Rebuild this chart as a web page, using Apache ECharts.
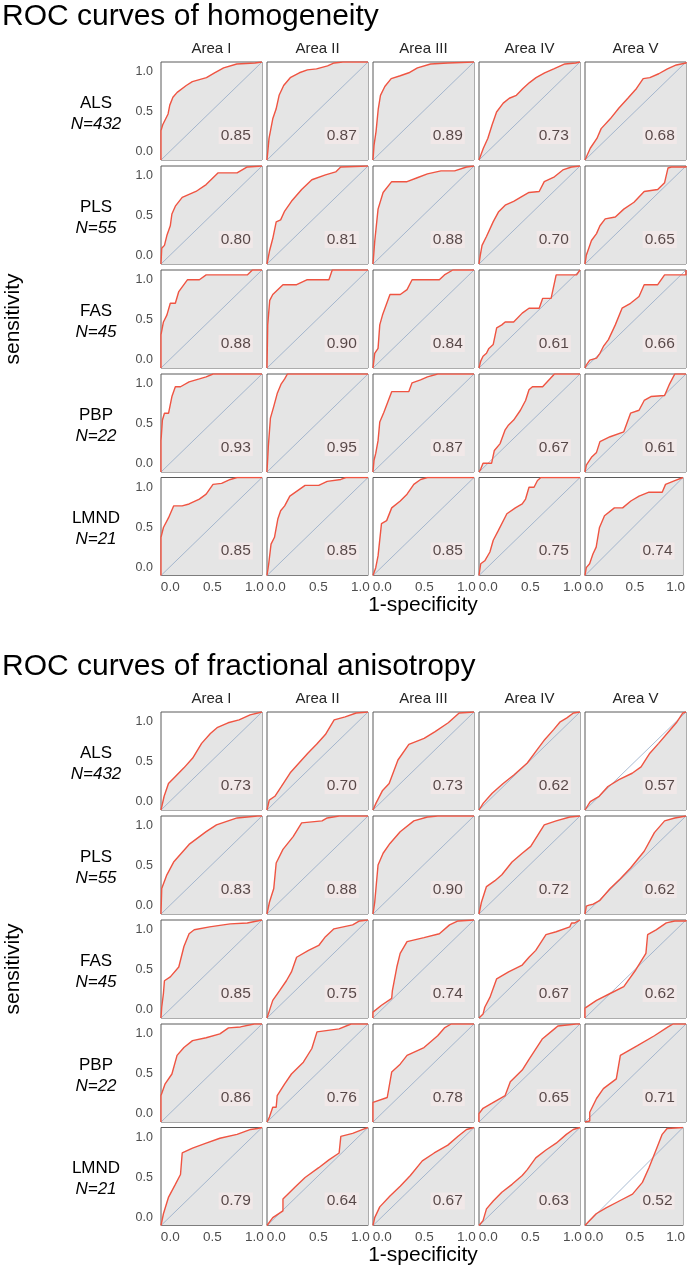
<!DOCTYPE html>
<html><head><meta charset="utf-8">
<script src="https://cdn.jsdelivr.net/npm/echarts@6/dist/echarts.min.js"></script>
<style>html,body{margin:0;padding:0;background:#fff}#c{width:688px;height:1270px}</style>
</head><body><div id="c"></div><script>
// ---------- data ----------
const titles = ['ROC curves of homogeneity', 'ROC curves of fractional anisotropy'];
const areas = ['Area I', 'Area II', 'Area III', 'Area IV', 'Area V'];
const groups = ['ALS', 'PLS', 'FAS', 'PBP', 'LMND'];
const groupN = [432, 55, 45, 22, 21];
const xTicks = [0, 0.5, 1];
const yTicks = [0, 0.5, 1];
const diagonal = [[0, 0], [1, 1]];

// homogeneity ROC curves: [1-specificity, sensitivity]
const homALS = [
  [[0,0],[0,0.3],[0.017,0.36],[0.07,0.47],[0.087,0.56],[0.118,0.64],[0.16,0.69],[0.25,0.76],[0.31,0.80],[0.45,0.84],[0.53,0.89],[0.62,0.94],[0.75,0.98],[0.93,0.99],[1,1]],
  [[0,0],[0.02,0.22],[0.057,0.42],[0.09,0.52],[0.12,0.66],[0.165,0.76],[0.23,0.84],[0.32,0.89],[0.40,0.92],[0.49,0.93],[0.6,0.96],[0.665,0.99],[0.75,1],[1,1]],
  [[0,0],[0.01,0.15],[0.03,0.29],[0.052,0.52],[0.074,0.66],[0.117,0.75],[0.18,0.83],[0.27,0.86],[0.355,0.89],[0.44,0.94],[0.57,0.98],[0.74,0.99],[1,1]],
  [[0,0],[0.043,0.12],[0.087,0.22],[0.13,0.36],[0.174,0.49],[0.24,0.58],[0.30,0.63],[0.37,0.66],[0.435,0.73],[0.5,0.79],[0.565,0.84],[0.65,0.89],[0.74,0.93],[0.85,0.98],[0.957,0.99],[1,1]],
  [[0,0],[0.052,0.12],[0.118,0.22],[0.16,0.32],[0.25,0.42],[0.336,0.53],[0.424,0.63],[0.51,0.73],[0.576,0.83],[0.642,0.84],[0.73,0.88],[0.816,0.93],[0.904,0.97],[1,0.99],[1,1]]
];
const homPLS = [
  [[0,0],[0.007,0.16],[0.034,0.19],[0.058,0.29],[0.092,0.39],[0.108,0.51],[0.142,0.59],[0.21,0.68],[0.346,0.74],[0.447,0.81],[0.566,0.93],[0.753,0.93],[0.854,0.99],[1,1]],
  [[0,0],[0.024,0.13],[0.057,0.26],[0.091,0.43],[0.135,0.45],[0.175,0.54],[0.242,0.64],[0.343,0.76],[0.444,0.86],[0.579,0.91],[0.68,0.94],[0.73,0.99],[1,1]],
  [[0,0],[0.017,0.23],[0.05,0.56],[0.1,0.73],[0.185,0.84],[0.337,0.84],[0.438,0.88],[0.539,0.92],[0.673,0.95],[0.808,0.95],[0.926,0.99],[1,1]],
  [[0,0],[0.013,0.09],[0.03,0.19],[0.074,0.28],[0.14,0.43],[0.192,0.53],[0.259,0.6],[0.343,0.64],[0.41,0.68],[0.495,0.73],[0.596,0.74],[0.646,0.84],[0.747,0.89],[0.83,0.96],[0.916,0.99],[1,1]],
  [[0,0],[0.013,0.09],[0.064,0.24],[0.114,0.31],[0.148,0.39],[0.2,0.46],[0.3,0.48],[0.384,0.56],[0.485,0.63],[0.586,0.74],[0.72,0.76],[0.788,0.83],[0.822,0.98],[0.855,0.99],[1,0.99],[1,1]]
];
const homFAS = [
  [[0,0],[0,0.34],[0.024,0.47],[0.058,0.54],[0.092,0.66],[0.142,0.66],[0.176,0.78],[0.261,0.9],[0.38,0.9],[0.447,0.95],[0.854,0.95],[0.905,1],[1,1]],
  [[0,0],[0.007,0.44],[0.027,0.69],[0.057,0.75],[0.158,0.85],[0.293,0.85],[0.394,0.9],[0.613,0.9],[0.646,1],[1,1]],
  [[0,0],[0.017,0.15],[0.05,0.2],[0.067,0.44],[0.094,0.54],[0.168,0.75],[0.27,0.75],[0.337,0.8],[0.387,0.9],[0.657,0.9],[0.707,0.95],[0.79,1],[1,1]],
  [[0,0],[0.017,0.07],[0.04,0.12],[0.074,0.15],[0.098,0.2],[0.141,0.24],[0.175,0.41],[0.226,0.44],[0.259,0.47],[0.343,0.47],[0.428,0.56],[0.495,0.61],[0.596,0.61],[0.63,0.71],[0.714,0.71],[0.764,0.95],[0.966,0.95],[1,1]],
  [[0,0],[0.013,0.03],[0.047,0.08],[0.114,0.1],[0.148,0.15],[0.182,0.22],[0.232,0.29],[0.3,0.44],[0.367,0.61],[0.451,0.66],[0.535,0.73],[0.586,0.85],[0.72,0.85],[0.788,0.95],[1,0.95],[1,1]]
];
const homPBP = [
  [[0,0],[0,0.32],[0.014,0.53],[0.034,0.6],[0.075,0.6],[0.108,0.77],[0.142,0.87],[0.193,0.87],[0.278,0.92],[0.38,0.95],[0.447,0.97],[0.515,1],[1,1]],
  [[0,0],[0.013,0.26],[0.034,0.55],[0.067,0.67],[0.101,0.8],[0.141,0.9],[0.175,0.95],[0.202,1],[1,1]],
  [[0,0],[0.01,0.12],[0.027,0.19],[0.05,0.32],[0.067,0.51],[0.108,0.61],[0.185,0.82],[0.354,0.82],[0.387,0.91],[0.471,0.94],[0.539,0.97],[0.64,1],[1,1]],
  [[0,0],[0.017,0.03],[0.04,0.09],[0.125,0.09],[0.152,0.22],[0.209,0.29],[0.259,0.43],[0.293,0.48],[0.343,0.53],[0.41,0.63],[0.461,0.73],[0.495,0.84],[0.529,0.87],[0.63,0.87],[0.747,1],[1,1]],
  [[0,0],[0.013,0.07],[0.064,0.15],[0.114,0.2],[0.148,0.31],[0.249,0.36],[0.384,0.41],[0.451,0.6],[0.535,0.63],[0.586,0.73],[0.653,0.77],[0.788,0.78],[0.838,0.9],[0.889,1],[1,1]]
];
const homLMND = [
  [[0,0],[0,0.39],[0.024,0.49],[0.075,0.59],[0.125,0.71],[0.21,0.71],[0.278,0.73],[0.38,0.78],[0.447,0.83],[0.515,0.93],[0.6,0.94],[0.686,0.98],[0.753,1],[1,1]],
  [[0,0],[0.017,0.12],[0.04,0.32],[0.074,0.39],[0.108,0.58],[0.135,0.66],[0.175,0.71],[0.226,0.81],[0.377,0.92],[0.512,0.92],[0.596,0.96],[0.731,0.98],[0.781,1],[1,1]],
  [[0,0],[0.027,0.08],[0.05,0.2],[0.084,0.53],[0.135,0.56],[0.185,0.69],[0.27,0.76],[0.337,0.83],[0.404,0.93],[0.471,0.98],[0.539,1],[1,1]],
  [[0,0],[0.017,0.12],[0.057,0.15],[0.108,0.24],[0.141,0.36],[0.192,0.46],[0.276,0.63],[0.36,0.69],[0.428,0.73],[0.461,0.78],[0.495,0.9],[0.545,0.9],[0.579,0.97],[0.613,1],[1,1]],
  [[0,0],[0.013,0.08],[0.047,0.12],[0.081,0.22],[0.114,0.29],[0.148,0.49],[0.199,0.61],[0.3,0.69],[0.384,0.69],[0.468,0.76],[0.552,0.81],[0.653,0.85],[0.788,0.85],[0.822,0.93],[0.923,0.97],[1,1]]
];

// fractional anisotropy ROC curves
const faALS = [
  [[0,0],[0.031,0.14],[0.074,0.27],[0.14,0.34],[0.227,0.43],[0.314,0.53],[0.402,0.68],[0.489,0.78],[0.555,0.84],[0.664,0.89],[0.773,0.92],[0.882,0.97],[1,1]],
  [[0,0],[0.022,0.1],[0.078,0.14],[0.143,0.24],[0.23,0.38],[0.317,0.48],[0.404,0.58],[0.491,0.67],[0.578,0.77],[0.665,0.92],[0.774,0.95],[0.883,0.99],[1,1]],
  [[0,0],[0.03,0.07],[0.095,0.2],[0.16,0.27],[0.247,0.51],[0.355,0.67],[0.506,0.73],[0.615,0.8],[0.745,0.89],[0.853,0.99],[1,1]],
  [[0,0],[0.043,0.07],[0.13,0.17],[0.239,0.27],[0.348,0.36],[0.478,0.48],[0.565,0.6],[0.652,0.72],[0.739,0.82],[0.804,0.9],[0.87,0.94],[0.935,0.99],[1,1]],
  [[0,0],[0.052,0.085],[0.14,0.14],[0.227,0.24],[0.336,0.31],[0.467,0.375],[0.555,0.44],[0.642,0.58],[0.729,0.68],[0.817,0.785],[0.904,0.89],[0.969,0.99],[1,1]]
];
const faPLS = [
  [[0,0],[0.007,0.26],[0.058,0.4],[0.125,0.53],[0.278,0.71],[0.447,0.84],[0.549,0.91],[0.753,0.98],[0.956,1],[1,1]],
  [[0,0],[0.024,0.12],[0.067,0.26],[0.091,0.52],[0.158,0.66],[0.259,0.79],[0.343,0.93],[0.545,0.95],[0.596,0.98],[0.714,1],[1,1]],
  [[0,0],[0.017,0.12],[0.05,0.5],[0.1,0.62],[0.168,0.72],[0.269,0.84],[0.404,0.95],[0.539,0.99],[0.64,1],[1,1]],
  [[0,0],[0.024,0.12],[0.074,0.28],[0.158,0.34],[0.226,0.4],[0.327,0.53],[0.428,0.62],[0.512,0.69],[0.646,0.91],[0.764,0.95],[0.899,0.99],[1,1]],
  [[0,0],[0.013,0],[0.013,0.08],[0.04,0.09],[0.081,0.1],[0.148,0.14],[0.249,0.26],[0.35,0.36],[0.451,0.47],[0.586,0.64],[0.687,0.83],[0.788,0.95],[0.889,0.98],[1,1]]
];
const faFAS = [
  [[0,0],[0.007,0.11],[0.024,0.25],[0.034,0.38],[0.092,0.42],[0.176,0.52],[0.227,0.73],[0.278,0.86],[0.329,0.9],[0.481,0.93],[0.685,0.96],[0.854,0.97],[0.861,0.99],[1,1]],
  [[0,0],[0.024,0.075],[0.057,0.18],[0.125,0.28],[0.192,0.38],[0.242,0.47],[0.293,0.62],[0.411,0.69],[0.512,0.74],[0.579,0.83],[0.663,0.91],[0.848,0.95],[0.916,0.99],[1,1]],
  [[0,0],[0,0.06],[0.084,0.13],[0.185,0.2],[0.192,0.28],[0.236,0.52],[0.269,0.66],[0.337,0.78],[0.505,0.82],[0.657,0.86],[0.758,0.95],[0.842,0.99],[1,1]],
  [[0,0],[0.04,0.04],[0.057,0.11],[0.108,0.21],[0.175,0.4],[0.293,0.47],[0.428,0.54],[0.495,0.62],[0.562,0.69],[0.663,0.85],[0.764,0.88],[0.899,0.93],[0.916,0.97],[0.949,0.97],[0.966,0.99],[1,1]],
  [[0,0],[0,0.1],[0.013,0.11],[0.114,0.18],[0.249,0.25],[0.384,0.32],[0.502,0.49],[0.603,0.66],[0.62,0.66],[0.62,0.85],[0.704,0.9],[0.805,0.97],[0.889,0.99],[1,0.99],[1,1]]
];
const faPBP = [
  [[0,0],[0,0.27],[0.041,0.39],[0.108,0.49],[0.159,0.68],[0.227,0.76],[0.312,0.83],[0.447,0.86],[0.583,0.9],[0.668,0.96],[0.786,0.97],[0.922,1],[1,1]],
  [[0,0],[0.024,0.05],[0.057,0.15],[0.091,0.15],[0.101,0.27],[0.175,0.39],[0.242,0.49],[0.36,0.61],[0.444,0.75],[0.495,0.92],[0.714,0.95],[0.832,1],[1,1]],
  [[0,0],[0,0.2],[0.141,0.25],[0.185,0.51],[0.269,0.59],[0.337,0.68],[0.505,0.76],[0.64,0.88],[0.707,0.96],[0.774,1],[1,1]],
  [[0,0],[0,0.085],[0.04,0.14],[0.125,0.19],[0.259,0.27],[0.31,0.41],[0.428,0.53],[0.495,0.64],[0.629,0.85],[0.747,0.95],[0.781,0.98],[0.781,0.99],[0.96,1],[1,1]],
  [[0,0],[0.047,0.01],[0.047,0.1],[0.114,0.24],[0.182,0.34],[0.31,0.44],[0.35,0.68],[0.519,0.78],[0.687,0.88],[0.822,0.97],[0.872,1],[1,1]]
];
const faLMND = [
  [[0,0],[0.024,0.12],[0.075,0.29],[0.142,0.42],[0.193,0.52],[0.21,0.74],[0.312,0.79],[0.447,0.84],[0.583,0.89],[0.753,0.93],[0.888,0.98],[0.956,0.99],[1,1]],
  [[0,0],[0.057,0.08],[0.158,0.15],[0.158,0.27],[0.276,0.39],[0.377,0.49],[0.512,0.59],[0.613,0.67],[0.714,0.74],[0.731,0.91],[0.848,0.94],[0.949,0.98],[1,1]],
  [[0,0],[0.017,0.08],[0.067,0.19],[0.168,0.3],[0.269,0.4],[0.37,0.51],[0.488,0.66],[0.606,0.74],[0.741,0.82],[0.842,0.91],[0.926,0.98],[1,1]],
  [[0,0],[0.04,0.05],[0.074,0.17],[0.141,0.25],[0.226,0.34],[0.327,0.42],[0.428,0.51],[0.478,0.57],[0.562,0.69],[0.663,0.77],[0.764,0.84],[0.865,0.93],[0.933,0.98],[1,1]],
  [[0,0],[0.047,0.05],[0.114,0.12],[0.215,0.18],[0.35,0.25],[0.485,0.32],[0.586,0.44],[0.653,0.59],[0.721,0.76],[0.788,0.93],[0.838,0.99],[1,1]]
];

// AUC values
const homAUC = {ALS:[0.85,0.87,0.89,0.73,0.68], PLS:[0.80,0.81,0.88,0.70,0.65], FAS:[0.88,0.90,0.84,0.61,0.66], PBP:[0.93,0.95,0.87,0.67,0.61], LMND:[0.85,0.85,0.85,0.75,0.74]};
const faAUC  = {ALS:[0.73,0.70,0.73,0.62,0.57], PLS:[0.83,0.88,0.90,0.72,0.62], FAS:[0.85,0.75,0.74,0.67,0.62], PBP:[0.86,0.76,0.78,0.65,0.71], LMND:[0.79,0.64,0.67,0.63,0.52]};

const sections = [
  {curves: {ALS:homALS, PLS:homPLS, FAS:homFAS, PBP:homPBP, LMND:homLMND}, auc: homAUC},
  {curves: {ALS:faALS, PLS:faPLS, FAS:faFAS, PBP:faPBP, LMND:faLMND}, auc: faAUC}
];

// ---------- layout / style ----------
const FONT = 'Liberation Sans, Arial, Helvetica, sans-serif';
const COL_L = [161, 267, 373, 479, 585];
const PW = 101, PH = 98;
const ROW_T = [62, 166, 270, 374, 477.5];
const SEC_OFF = [0, 650];
const X_LAB = [-0.11, 1.09];
const Y_LAB = [-0.1, 1.125];
const AUC_POS = [0.74, 0.25];
const RED = '#ef5442', FILL = '#e5e5e5', DIAG = '#93aac6';

const grid = [], xAxis = [], yAxis = [], series = [], graphic = [];

function addText(x, y, text, size, opts) {
  graphic.push(Object.assign({type:'text', x:x, y:y, silent:true,
    style: Object.assign({text:text, fontFamily:FONT, fontSize:size, fill:'#000',
      align:'center', verticalAlign:'middle'}, (opts && opts.style) || {})},
    (opts && opts.el) || {}));
}

sections.forEach((sec, s) => {
  const off = SEC_OFF[s];
  addText(2, 17 + off, titles[s], 30, {style:{align:'left'}});
  areas.forEach((a, c) => addText(COL_L[c] + PW/2, 49 + off, a, 15, {style:{fill:'#262626'}}));
  addText(423, 605 + off, '1-specificity', 21);
  addText(13, 319 + off, 'sensitivity', 21, {el:{rotation: Math.PI/2}});
  groups.forEach((g, r) => {
    const cy = ROW_T[r] + off + PH/2;
    addText(96, cy - 8, g, 17);
    addText(96, cy + 13, 'N=' + groupN[r], 17, {style:{fontStyle:'italic'}});
    areas.forEach((a, c) => {
      const gi = grid.length;
      grid.push({left: COL_L[c], top: ROW_T[r] + off, width: PW, height: PH,
        show: true, backgroundColor: '#fff', borderColor: '#5a5a5a', borderWidth: 1});
      const xi = xAxis.length, yi = yAxis.length;
      xAxis.push({type:'value', gridIndex: gi, min:0, max:1, show:false});
      yAxis.push({type:'value', gridIndex: gi, min:0, max:1, show:false});
      if (r === groups.length - 1) {
        xAxis.push({type:'value', gridIndex: gi, min:X_LAB[0], max:X_LAB[1], position:'bottom',
          axisLine:{show:false}, axisTick:{show:false}, splitLine:{show:false},
          axisLabel:{show:true, customValues:xTicks, formatter: v => v.toFixed(1), margin:5,
            fontFamily:FONT, fontSize:13.5, color:'#4d4d4d'}});
      }
      if (c === 0) {
        yAxis.push({type:'value', gridIndex: gi, min:Y_LAB[0], max:Y_LAB[1], position:'left',
          axisLine:{show:false}, axisTick:{show:false}, splitLine:{show:false},
          axisLabel:{show:true, customValues:yTicks, formatter: v => v.toFixed(1), margin:8,
            fontFamily:FONT, fontSize:12.5, color:'#4d4d4d'}});
      }
      const curve = sec.curves[g][c];
      series.push({type:'line', xAxisIndex:xi, yAxisIndex:yi, data:curve, symbol:'none',
        silent:true, z:1, lineStyle:{width:0, opacity:0}, areaStyle:{color:FILL, opacity:1}});
      series.push({type:'line', xAxisIndex:xi, yAxisIndex:yi, data:diagonal, symbol:'none',
        silent:true, z:2, lineStyle:{width:0.8, color:DIAG}});
      series.push({type:'line', xAxisIndex:xi, yAxisIndex:yi, data:curve, symbol:'none',
        silent:true, z:3, lineStyle:{width:1.4, color:RED}});
      series.push({type:'scatter', xAxisIndex:xi, yAxisIndex:yi, data:[AUC_POS], symbolSize:0,
        silent:true, z:4, label:{show:true, position:'inside', formatter: () => sec.auc[g][c].toFixed(2),
          fontFamily:FONT, fontSize:15.5, color:'#2f1e1e', backgroundColor:'rgba(255,236,236,0.6)',
          padding:[1,2,0,2]}});
    });
  });
});

const chart = echarts.init(document.getElementById('c'), null, {renderer:'canvas'});
chart.setOption({animation:false, backgroundColor:'#fff', grid, xAxis, yAxis, series, graphic});
</script></body></html>
